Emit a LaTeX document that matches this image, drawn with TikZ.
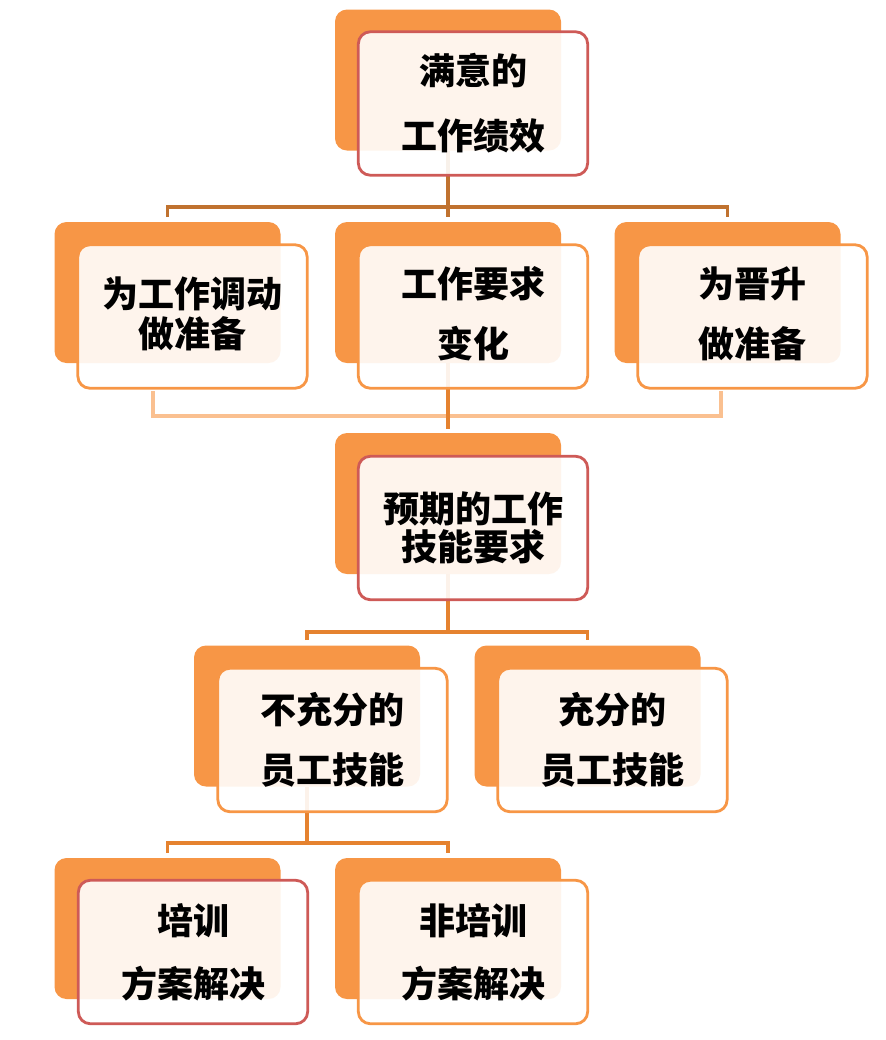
\documentclass[tikz,border=0pt]{standalone}
\usepackage{fontspec}
\newfontfamily\cjk{Noto Sans CJK SC}
\definecolor{backorange}{HTML}{F79646}
\definecolor{redborder}{HTML}{CE5A57}
\definecolor{orangeborder}{HTML}{F79646}
\definecolor{darkline}{HTML}{C0722F}
\definecolor{midline}{HTML}{E5822F}
\definecolor{lightline}{HTML}{FAC090}
\tikzset{
  backbox/.style={fill=backorange, draw=none, rounded corners=9pt,
    minimum width=169.5pt, minimum height=105.75pt, inner sep=0pt},
  frontbox/.style={fill=white, fill opacity=0.9, draw=#1, draw opacity=1,
    line width=2.1pt, rounded corners=9pt,
    minimum width=172pt, minimum height=107.6pt, inner sep=0pt},
  label/.style={align=center, inner sep=0pt, text=black,
    font=\cjk\bfseries\fontsize{27pt}{#1}\selectfont},
  dk/.style={draw=darkline, line width=2.3pt},
  md/.style={draw=midline, line width=2.3pt},
  lt/.style={draw=lightline, line width=2.3pt},
}
\begin{document}
\begin{tikzpicture}[x=0.75pt, y=-0.75pt]
\useasboundingbox (0,0) rectangle (886,1040);
% back boxes
\node[backbox] (b1)  at (448,80) {};
\node[backbox] (b2a) at (167.5,292.5) {};
\node[backbox] (b2b) at (448,292.5) {};
\node[backbox] (b2c) at (727.5,292.5) {};
\node[backbox] (b3)  at (448,503.5) {};
\node[backbox] (b4a) at (307,716) {};
\node[backbox] (b4b) at (587.5,716) {};
\node[backbox] (b5a) at (167.5,928.5) {};
\node[backbox] (b5b) at (448,928.5) {};
% connectors
\draw[dk] (b1.south) -- (b1.south |- 0,217);
\draw[dk] (b2a.north |- 0,217) -- (b2a.north |- 0,207) -- (b2c.north |- 0,207) -- (b2c.north |- 0,217);
\coordinate (la) at (153,391);
\coordinate (lb) at (721,391);
\draw[lt] (la) -- (la |- 0,416) -- (lb |- 0,416) -- (lb);
\draw[md] (b2b.south) -- (b3.north |- 0,429);
\draw[md] (b3.south) -- (b3.south |- 0,632);
\draw[md] (b4a.north |- 0,640) -- (b4a.north |- 0,632) -- (b4b.north |- 0,632) -- (b4b.north |- 0,640);
\draw[md] (b4a.south) -- (b4a.south |- 0,843);
\draw[md] (b5a.north |- 0,853) -- (b5a.north |- 0,843) -- (b5b.north |- 0,843) -- (b5b.north |- 0,853);
% front boxes
\node[frontbox=redborder]    (f1)  at (473,103.5) {};
\node[frontbox=orangeborder] (f2a) at (192.5,316.5) {};
\node[frontbox=orangeborder] (f2b) at (473,316.5) {};
\node[frontbox=orangeborder] (f2c) at (752.5,316.5) {};
\node[frontbox=redborder]    (f3)  at (473,528) {};
\node[frontbox=orangeborder] (f4a) at (332.5,740) {};
\node[frontbox=orangeborder] (f4b) at (612.5,740) {};
\node[frontbox=redborder]    (f5a) at (193,952) {};
\node[frontbox=orangeborder] (f5b) at (473,952) {};
% labels
\node[label=48.75pt] (t1)  at (f1.center)  {满意的\\工作绩效};
\node[label=30pt]    (t2a) at ([yshift=2pt]f2a.center) {为工作调动\\做准备};
\node[label=45pt]    (t2b) at ([yshift=2pt]f2b.center) {工作要求\\变化};
\node[label=45pt]    (t2c) at ([yshift=2pt]f2c.center) {为晋升\\做准备};
\node[label=29pt]    (t3)  at (f3.center)  {预期的工作\\技能要求};
\node[label=45pt]    (t4a) at (f4a.center) {不充分的\\员工技能};
\node[label=45pt]    (t4b) at (f4b.center) {充分的\\员工技能};
\node[label=47pt]    (t5a) at (f5a.center) {培训\\方案解决};
\node[label=47pt]    (t5b) at (f5b.center) {非培训\\方案解决};
\end{tikzpicture}
\end{document}
